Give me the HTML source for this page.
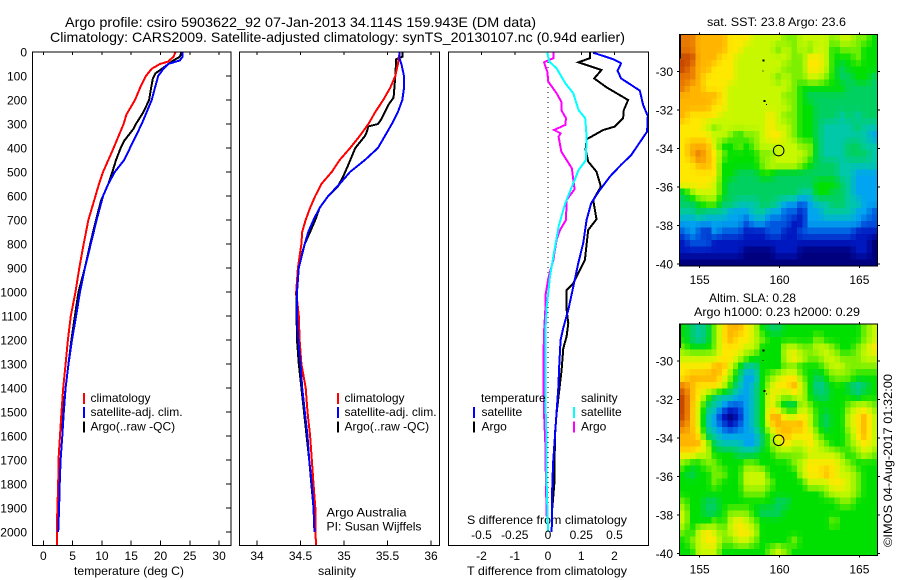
<!DOCTYPE html>
<html>
<head>
<meta charset="utf-8">
<title>Argo profile chart</title>
<style>
html,body{margin:0;padding:0;background:#fff;}
#chart{display:block;width:900px;height:580px;font-family:"Liberation Sans",sans-serif;font-size:12px;fill:#000;}
</style>
</head>
<body>
<svg id="chart" xmlns="http://www.w3.org/2000/svg" width="900" height="580" viewBox="0 0 900 580">
<rect x="0" y="0" width="900" height="580" fill="#fff"/>
<text x="65" y="27" font-size="14" textLength="471" lengthAdjust="spacingAndGlyphs">Argo profile: csiro 5903622_92 07-Jan-2013 34.114S 159.943E (DM data)</text>
<text x="50" y="42" font-size="14" textLength="575" lengthAdjust="spacingAndGlyphs">Climatology: CARS2009. Satellite-adjusted climatology: synTS_20130107.nc (0.94d earlier)</text>
<text x="74" y="575" textLength="110" lengthAdjust="spacingAndGlyphs">temperature (deg C)</text>
<text x="318" y="575" textLength="38" lengthAdjust="spacingAndGlyphs">salinity</text>
<text x="467" y="575" textLength="160" lengthAdjust="spacingAndGlyphs">T difference from climatology</text>
<text x="467" y="524" textLength="160" lengthAdjust="spacingAndGlyphs">S difference from climatology</text>
<text x="326.5" y="516.7" textLength="80" lengthAdjust="spacingAndGlyphs">Argo Australia</text>
<text x="326.5" y="530.7" textLength="95" lengthAdjust="spacingAndGlyphs">PI: Susan Wijffels</text>
<text x="707" y="26" textLength="139" lengthAdjust="spacingAndGlyphs">sat. SST: 23.8 Argo: 23.6</text>
<text x="709" y="302" textLength="87" lengthAdjust="spacingAndGlyphs">Altim. SLA: 0.28</text>
<text x="694" y="316" textLength="166" lengthAdjust="spacingAndGlyphs">Argo h1000: 0.23 h2000: 0.29</text>
<text transform="translate(892,547) rotate(-90)" textLength="173" lengthAdjust="spacingAndGlyphs">©IMOS 04-Aug-2017 01:32:00</text>
<g id="layer-maps"></g>
<g id="layer-profiles"></g>
<g id="layer-legends"></g>
</svg>
<script>
/* ---------- axis tick labels ---------- */
const depthTicks = [0,100,200,300,400,500,600,700,800,900,1000,1100,1200,1300,1400,1500,1600,1700,1800,1900,2000];
const tempTicks = [0,5,10,15,20,25,30];
const salTicks = [34,34.5,35,35.5,36];
const salTickLabels = ["34","34.5","35","35.5","36"];
const tDiffTicks = [-2,-1,0,1,2];
const sDiffTicks = [-0.5,-0.25,0,0.25,0.5];
const sDiffTickLabels = ["-0.5","-0.25","0","0.25","0.5"];
const lonTicks = [155,160,165];
const latTicks = [-30,-32,-34,-36,-38,-40];

/* ---------- temperature profiles (deg C vs dbar) ---------- */
const tempClimDepth = [0,20,40,50,70,100,150,200,260,300,400,500,550,600,700,800,900,1000,1100,1200,1300,1400,1500,1600,1700,1800,1900,2000,2057];
const tempClimValue = [22.6,22.2,21.3,19.9,18.5,17.5,16.5,15.65,14.2,13.7,12.0,10.2,9.5,8.9,7.7,6.9,6.15,5.5,4.7,4.2,3.8,3.4,3.1,2.85,2.6,2.55,2.4,2.3,2.3];
const tempSatDepth = [0,20,35,50,70,100,150,200,300,400,450,500,550,600,700,800,900,1000,1100,1200,1300,1400,1500,1600,1700,1800,1900,2000];
const tempSatValue = [23.8,23.75,23.3,21.3,20.5,19.6,19.05,18.5,16.8,14.8,13.8,12.2,11.1,10.2,9.1,8.1,7.1,6.26,5.6,4.9,4.3,3.8,3.5,3.25,2.96,2.8,2.7,2.55];
const tempArgoDepth = [0,20,35,60,90,110,150,200,250,300,320,370,400,450,500,550,620,700,800,900,1000,1100,1200,1300,1400,1500,1600,1700,1900,2000];
const tempArgoValue = [23.6,23.3,22.2,20.8,19.1,18.7,18.4,18.05,17.1,15.8,15.4,13.8,13.2,12.4,11.8,11.1,9.85,9.0,8.0,7.1,6.0,5.4,4.8,4.3,3.8,3.4,3.25,2.96,2.45,2.5];

/* ---------- salinity profiles (psu vs dbar) ---------- */
const salClimDepth = [0,50,100,150,200,250,300,350,400,450,500,550,600,650,700,750,800,900,1000,1100,1200,1300,1400,1500,1600,1700,1800,1900,2000,2057];
const salClimValue = [35.64,35.62,35.59,35.53,35.45,35.36,35.28,35.18,35.07,34.95,34.86,34.74,34.67,34.61,34.56,34.52,34.51,34.47,34.45,34.48,34.49,34.51,34.56,34.58,34.61,34.63,34.65,34.67,34.67,34.68];
const salSatDepth = [0,30,50,100,150,200,250,300,350,400,450,500,550,600,650,700,750,800,900,1000,1100,1200,1300,1400,1500,1600,1700,1800,1900,2000];
const salSatValue = [35.64,35.64,35.66,35.69,35.69,35.67,35.62,35.55,35.47,35.39,35.24,35.07,34.95,34.82,34.72,34.65,34.59,34.55,34.48,34.46,34.46,34.475,34.5,34.52,34.55,34.58,34.6,34.63,34.65,34.66];
const salArgoDepth = [0,20,30,100,190,220,280,300,310,335,350,400,470,520,560,600,650,700,750,800,900,1000,1200,1300,1500,1700,1900];
const salArgoValue = [35.67,35.67,35.6,35.59,35.57,35.51,35.43,35.39,35.28,35.26,35.24,35.13,35.05,34.99,34.93,34.82,34.72,34.67,34.61,34.55,34.47,34.45,34.46,34.48,34.54,34.6,34.65];

/* ---------- differences from climatology ---------- */
const tDiffSatDepth = [3,30,47,78,110,161,220,267,332,430,470,520,575,630,700,797,880,978,1075,1100,1150,1200,1300,1400,1500,1600,1700,1800,2000];
const tDiffSatValue = [1.36,1.96,2.2,2.09,2.2,2.76,2.86,3.0,2.98,2.5,2.2,1.86,1.56,1.3,1.16,1.06,0.91,0.76,0.61,0.56,0.46,0.38,0.34,0.31,0.26,0.21,0.16,0.13,0.11];
const tDiffArgoDepth = [3,26,43,54,75,110,147,200,242,276,311,325,364,408,457,499,561,617,697,742,867,964,992,1075,1130,1186,1235,1325,1408,1506,1590,1800,1900];
const tDiffArgoValue = [1.26,1.26,0.91,1.16,1.61,1.39,1.76,2.41,2.28,2.26,2.01,1.66,1.16,1.13,1.21,1.46,1.59,1.36,1.46,1.21,1.11,0.76,0.56,0.56,0.61,0.56,0.46,0.41,0.34,0.26,0.21,0.19,0.13];
const sDiffSatDepth = [3,40,68,130,172,242,276,353,450,492,547,630,728,853,936,1061,1172,1310,1450,1630,1800,2000];
const sDiffSatValue = [-0.005,0.01,0.065,0.13,0.19,0.23,0.28,0.29,0.285,0.23,0.19,0.13,0.08,0.04,0.015,-0.01,-0.02,-0.02,-0.02,-0.01,-0.01,0];
const sDiffArgoDepth = [3,26,43,82,124,172,207,242,276,304,325,339,353,415,485,533,572,617,700,742,783,867,943,1019,1075,1172,1310,1506,1630,1811,1936];
const sDiffArgoValue = [0.04,0.04,-0.03,-0.005,0.002,0.065,0.1,0.1,0.135,0.13,0.045,0.095,0.08,0.1,0.18,0.19,0.2,0.14,0.135,0.09,0.065,0.04,0.002,-0.02,-0.02,-0.03,-0.035,-0.03,-0.02,-0.015,-0.01];

/* ---------- map fields (colour-level, north row first) ---------- */
const sstLevels = [
[11,11,10,10,10,10,9,9,9,8,8,8,8,7,7,8,8,8,8,7,8,8,7,7,6],
[11,11,10,10,10,10,9,9,8,8,8,8,7,8,7,8,7,8,8,6,7,7,7,6,6],
[12,12,10,10,10,9,9,8,8,8,8,8,8,8,7,7,9,9,8,6,6,6,7,6,6],
[12,11,10,10,9,9,9,8,8,8,8,8,8,7,7,7,9,9,8,6,5,6,6,6,6],
[11,11,10,9,9,9,9,8,8,8,8,8,7,8,7,7,8,8,7,6,5,5,6,6,5],
[11,10,10,9,9,9,8,8,8,8,8,8,8,8,7,6,6,6,6,6,6,5,5,5,5],
[10,10,10,10,10,9,8,8,8,8,8,8,8,7,7,6,5,5,5,5,5,5,5,5,5],
[10,10,10,10,9,9,8,8,8,8,8,8,8,8,7,6,6,5,5,5,5,5,5,5,5],
[10,9,9,9,9,8,8,8,8,8,8,9,8,7,7,6,6,5,5,5,4,5,4,5,5],
[9,9,9,8,7,8,8,8,8,8,8,9,8,8,7,6,6,5,4,4,4,4,5,4,4],
[9,9,9,9,8,8,7,6,7,7,8,9,9,8,7,6,6,5,4,4,4,4,4,4,3],
[9,10,10,10,8,6,6,7,6,7,8,8,8,8,8,7,7,5,4,4,4,5,5,4,4],
[9,10,11,10,9,7,6,6,6,6,7,7,8,8,8,8,7,5,4,4,4,5,5,5,4],
[9,9,10,10,9,6,6,6,6,6,7,8,8,8,8,7,6,5,5,5,4,4,4,4,4],
[9,9,9,9,9,6,6,5,5,5,6,6,5,5,5,5,5,5,5,5,4,4,3,3,3],
[9,9,9,9,8,6,5,5,5,5,5,5,5,5,5,5,5,6,6,6,5,4,3,3,3],
[5,7,8,8,8,6,5,5,5,5,5,5,5,5,5,4,4,6,6,5,5,4,3,3,3],
[5,5,6,7,7,5,5,4,4,4,5,5,4,3,3,2,3,4,4,5,5,4,4,3,3],
[4,4,5,4,4,4,3,3,3,4,4,3,3,2,2,1,3,3,4,4,4,4,3,3,2],
[3,3,3,3,3,3,3,3,2,3,3,2,2,2,1,1,3,3,3,3,3,3,3,2,2],
[2,3,2,1,3,2,2,2,1,1,1,2,2,1,1,2,2,2,2,2,2,2,1,1,1],
[1,2,2,2,1,1,1,1,1,1,1,1,1,1,1,1,1,1,1,1,1,1,1,1,0],
[1,1,1,1,1,1,1,1,0,0,0,0,1,1,1,0,0,0,0,0,0,0,1,1,0],
[0,0,0,0,0,0,0,0,0,0,0,0,0,0,0,0,0,0,0,0,0,0,0,0,0]
];
const slaLevels = [
[6,5,4,5,7,9,10,10,9,8,6,5,5,6,6,6,6,6,6,6,6,6,6,7,8],
[6,5,4,5,7,9,10,9,9,8,7,6,6,6,6,6,6,7,6,6,6,6,6,7,8],
[7,6,6,6,7,9,9,9,8,8,6,6,6,8,8,7,7,8,8,7,6,6,7,8,9],
[8,8,8,8,8,9,9,8,7,6,6,6,6,8,9,8,7,7,8,8,7,7,7,8,8],
[9,9,9,9,10,10,8,6,4,4,6,6,6,7,7,6,6,6,7,8,8,7,7,7,7],
[9,10,10,10,10,9,7,5,3,3,6,7,8,9,9,7,6,5,6,7,7,7,6,6,6],
[11,10,9,9,9,8,6,4,3,4,6,8,9,9,10,8,6,4,5,6,6,5,4,5,6],
[12,10,9,7,5,4,4,3,3,4,6,9,8,7,8,8,6,5,5,6,6,6,5,6,6],
[12,10,8,5,4,3,2,2,3,4,6,9,7,5,5,8,7,6,6,6,6,7,8,8,7],
[12,10,8,4,3,1,0,1,3,4,6,10,10,8,8,9,8,6,5,6,6,8,9,10,8],
[11,10,8,4,3,2,1,2,3,4,6,9,10,10,10,10,8,6,5,6,6,8,9,10,8],
[10,10,9,5,4,3,3,3,3,3,5,7,9,10,9,9,9,7,6,6,6,7,9,10,8],
[10,10,10,8,5,4,4,4,3,3,5,7,8,9,8,8,9,8,7,6,6,7,8,9,8],
[9,9,8,8,6,6,6,5,5,5,6,6,7,7,7,7,8,8,8,8,7,6,7,8,7],
[7,6,6,7,7,6,6,6,7,7,6,6,6,6,7,8,9,9,9,9,8,7,6,6,6],
[6,5,6,6,7,7,6,6,8,8,8,6,6,6,6,8,9,9,10,9,8,8,7,6,6],
[6,6,6,6,7,6,6,6,8,8,8,7,6,6,6,6,8,8,8,9,9,8,7,6,6],
[6,6,6,6,6,6,6,6,7,7,7,6,6,6,6,6,6,6,7,8,8,8,7,6,6],
[7,6,6,5,5,6,6,6,6,6,6,6,5,5,6,6,6,6,6,6,7,7,6,6,6],
[8,6,6,5,5,6,7,7,7,6,5,5,5,6,6,6,6,6,6,6,6,6,6,6,6],
[8,6,6,6,7,6,8,9,8,7,6,6,6,6,6,6,6,6,6,7,6,6,6,6,6],
[7,6,8,9,8,7,8,9,9,8,6,6,6,6,6,6,6,6,6,6,6,6,6,6,6],
[6,7,8,9,9,7,7,8,8,7,6,6,6,6,7,6,6,6,6,6,6,6,6,6,6],
[6,6,8,8,8,6,6,6,6,6,6,7,8,7,6,6,6,6,6,6,6,6,6,6,6]
];
const islandLons = [159.0,159.0,159.05,159.2];
const islandLats = [-29.45,-30.0,-31.55,-31.75];
const argoLon = 159.943;
const argoLat = -34.114;

/* ---------- geometry / scales ---------- */
const NS = 'http://www.w3.org/2000/svg';
const levelColors = [[0,0,127],[0,24,192],[0,88,224],[0,164,240],[0,200,168],[0,208,96],[0,224,0],[124,240,0],[200,248,0],[255,232,0],[255,180,0],[232,120,0],[200,72,0]];
const topY = 52, bottomY = 545.7;
const panelT = {l:32.5,r:231}, panelS = {l:239.5,r:439.5}, panelD = {l:448.5,r:648.5};
const yDepth = d => topY + d * 0.2399;
const xTemp = t => 43.3 + t * 5.86;
const xSal = s => 257 + (s - 34) * 87;
const xTDiff = t => 548 + t * 33.25;
const xSDiff = s => 548 + s * 133;
const xLon = lon => 699.7 + (lon - 155) * 15.97;
const map1Y = lat => 71.3 + (-30 - lat) * 19.27;
const map2Y = lat => 361 + (-30 - lat) * 19.27;
const lonMin = 153.72, lonMax = 166.12, latMax = -28.08, latMin = -40.1;
const displayCols = 37, displayRows = 36;

const profiles = document.getElementById('layer-profiles');
const maps = document.getElementById('layer-maps');
const legends = document.getElementById('layer-legends');

function mk(tag, parent, attrs) {
  const el = document.createElementNS(NS, tag);
  for (const k in attrs) el.setAttribute(k, attrs[k]);
  parent.appendChild(el);
  return el;
}
function label(parent, str, x, y, anchor) {
  const t = mk('text', parent, {x: x, y: y, 'text-anchor': anchor || 'middle'});
  t.textContent = str;
  return t;
}
function segment(parent, x1, y1, x2, y2) {
  return mk('line', parent, {x1: x1, y1: y1, x2: x2, y2: y2, stroke: '#000', 'stroke-width': 1, 'shape-rendering': 'crispEdges'});
}
function frame(parent, p, sw) {
  return mk('rect', parent, {x: p.l, y: topY, width: p.r - p.l, height: bottomY - topY, fill: 'none', stroke: '#000', 'stroke-width': sw || 1, 'shape-rendering': 'crispEdges'});
}
function profileLine(parent, depths, values, xf, color, width) {
  const pts = depths.map((d, i) => xf(values[i]).toFixed(1) + ',' + yDepth(d).toFixed(1)).join(' ');
  return mk('polyline', parent, {points: pts, fill: 'none', stroke: color, 'stroke-width': width || 2, 'stroke-linejoin': 'miter', 'shape-rendering': 'crispEdges'});
}

/* ---------- temperature panel ---------- */
const gT = mk('g', profiles, {});


const lineTA = profileLine(gT, tempArgoDepth, tempArgoValue, xTemp, '#000');


const lineTC = profileLine(gT, tempClimDepth, tempClimValue, xTemp, '#ff0000');


const lineTS = profileLine(gT, tempSatDepth, tempSatValue, xTemp, '#0000ff');


const frameT = frame(gT, panelT);


const depthAxis = mk('g', gT, {});


depthTicks.forEach(d => {
  const y = yDepth(d);
  const lab = label(depthAxis, String(d), 27, y + 4.5, 'end');
  
  
  if (d > 0) segment(depthAxis, panelT.r - 5, y, panelT.r, y);
});
const tempAxis = mk('g', gT, {});


tempTicks.forEach(t => {
  const x = xTemp(t);
  segment(tempAxis, x, topY, x, topY + 3);
  segment(tempAxis, x, bottomY - 5, x, bottomY);
  const lab = label(tempAxis, String(t), x, 560);
  
  
});

/* ---------- salinity panel ---------- */
const gS = mk('g', profiles, {});


const lineSA = profileLine(gS, salArgoDepth, salArgoValue, xSal, '#000');


const lineSC = profileLine(gS, salClimDepth, salClimValue, xSal, '#ff0000');


const lineSS = profileLine(gS, salSatDepth, salSatValue, xSal, '#0000ff');


const frameS = frame(gS, panelS);


const salAxis = mk('g', gS, {});


salTicks.forEach((s, i) => {
  const x = xSal(s);
  segment(salAxis, x, topY, x, topY + 3);
  segment(salAxis, x, bottomY - 5, x, bottomY);
  const lab = label(salAxis, salTickLabels[i], x, 560);
  
  
});

/* ---------- difference panel ---------- */
const gD = mk('g', profiles, {});


const zeroLine = mk('line', gD, {x1: xTDiff(0), y1: topY, x2: xTDiff(0), y2: yDepth(2000), stroke: '#000', 'stroke-width': 1, 'stroke-dasharray': '1 4', 'shape-rendering': 'crispEdges'});


const lineDTA = profileLine(gD, tDiffArgoDepth, tDiffArgoValue, xTDiff, '#000');


const lineDTS = profileLine(gD, tDiffSatDepth, tDiffSatValue, xTDiff, '#0000ff');


const lineDSA = profileLine(gD, sDiffArgoDepth, sDiffArgoValue, xSDiff, '#ff00ff');


const lineDSS = profileLine(gD, sDiffSatDepth, sDiffSatValue, xSDiff, '#00ffff');


const frameD = frame(gD, panelD);


const tDiffAxis = mk('g', gD, {});


tDiffTicks.forEach(t => {
  const x = xTDiff(t);
  if (t !== 0) segment(tDiffAxis, x, topY, x, topY + 3);
  const lab = label(tDiffAxis, String(t), x, 560);
  
  
});
const sDiffAxis = mk('g', gD, {});


sDiffTicks.forEach((s, i) => {
  const lab = label(sDiffAxis, sDiffTickLabels[i], xSDiff(s), 539);
  
  
});

/* ---------- legends ---------- */
function legendEntry(bx, tx, y0, color, str) {
  const g = mk('g', legends, {});
  
  
  if (color) mk('rect', g, {x: bx, y: y0, width: 2, height: 11, fill: color, 'shape-rendering': 'crispEdges'});
  label(g, str, tx, y0 + 9, 'start');
}
legendEntry(83, 90.5, 393, '#ff0000', 'climatology');
legendEntry(83, 90.5, 407, '#0000ff', 'satellite-adj. clim.');
legendEntry(83, 90.5, 421.5, '#000', 'Argo(..raw -QC)');
legendEntry(337, 344.5, 393, '#ff0000', 'climatology');
legendEntry(337, 344.5, 407, '#0000ff', 'satellite-adj. clim.');
legendEntry(337, 344.5, 421.5, '#000', 'Argo(..raw -QC)');
legendEntry(0, 481, 393, null, 'temperature');
legendEntry(473, 481.5, 407, '#0000ff', 'satellite');
legendEntry(473, 481.5, 421.5, '#000', 'Argo');
legendEntry(0, 581, 393, null, 'salinity');
legendEntry(573, 581, 407, '#00ffff', 'satellite');
legendEntry(573, 581, 421.5, '#ff00ff', 'Argo');

/* ---------- maps: the level grid is resampled onto the display pixels ---------- */
function sampleLevel(levels, fr, fc) {
  const rows = levels.length, cols = levels[0].length;
  const r = Math.max(0, Math.min(rows - 1, fr * rows - 0.5));
  const c = Math.max(0, Math.min(cols - 1, fc * cols - 0.5));
  const r0 = Math.floor(r), c0 = Math.floor(c);
  const r1 = Math.min(rows - 1, r0 + 1), c1 = Math.min(cols - 1, c0 + 1);
  const dr = r - r0, dc = c - c0;
  return (levels[r0][c0] * (1 - dc) + levels[r0][c1] * dc) * (1 - dr) +
         (levels[r1][c0] * (1 - dc) + levels[r1][c1] * dc) * dr;
}
function levelColor(v) {
  const i = Math.min(levelColors.length - 2, Math.floor(v)), f = v - i;
  const a = levelColors[i], b = levelColors[i + 1];
  return 'rgb(' + a.map((x, k) => Math.round(x + (b[k] - x) * f)).join(',') + ')';
}
function drawMap(levels, yf, name) {
  const g = mk('g', maps, {});
  
  
  const dLon = (lonMax - lonMin) / displayCols, dLat = (latMax - latMin) / displayRows;
  for (let r = 0; r < displayRows; r++) {
    for (let c = 0; c < displayCols; c++) {
      const v = sampleLevel(levels, (r + 0.5) / displayRows, (c + 0.5) / displayCols);
      const x0 = xLon(lonMin + c * dLon), x1 = xLon(lonMin + (c + 1) * dLon);
      const y0 = yf(latMax - r * dLat), y1 = yf(latMax - (r + 1) * dLat);
      const cell = mk('rect', g, {x: x0.toFixed(2), y: y0.toFixed(2), width: (x1 - x0 + 0.4).toFixed(2), height: (y1 - y0 + 0.4).toFixed(2), fill: levelColor(v), 'shape-rendering': 'crispEdges'});
      
      
    }
  }
  const strip = mk('rect', g, {x: xLon(lonMin), y: yf(latMax), width: 1.5, height: 24, fill: '#000', 'shape-rendering': 'crispEdges'});
  
  
  islandLons.forEach((lon, i) => {
    const dot = mk('rect', g, {x: xLon(lon) - 1, y: yf(islandLats[i]) - 1, width: i === 1 || i === 3 ? 1 : 2, height: i === 1 || i === 3 ? 1 : 2, fill: '#000', 'shape-rendering': 'crispEdges'});
    
    
  });
  const box = mk('rect', g, {x: xLon(lonMin), y: yf(latMax), width: xLon(lonMax) - xLon(lonMin), height: yf(latMin) - yf(latMax), fill: 'none', stroke: '#000', 'stroke-width': 1, 'shape-rendering': 'crispEdges'});
  
  
  const marker = mk('circle', g, {cx: xLon(argoLon), cy: yf(argoLat), r: 5.3, fill: 'none', stroke: '#000', 'stroke-width': 1});
  
  
  lonTicks.forEach(lon => {
    const x = xLon(lon);
    segment(g, x, yf(latMax) - 2, x, yf(latMax));
    segment(g, x, yf(latMin), x, yf(latMin) + 2);
    const lab = label(g, String(lon), x, yf(latMin) + 18);
    
    
  });
  latTicks.forEach(lat => {
    const y = yf(lat);
    segment(g, xLon(lonMin) - 2.5, y, xLon(lonMin), y);
    segment(g, xLon(lonMax), y, xLon(lonMax) + 2.5, y);
    const lab = label(g, String(lat), 673, y + 4.5, 'end');
    
    
  });
}
drawMap(sstLevels, map1Y, 'sst-map');
drawMap(slaLevels, map2Y, 'sla-map');
</script>
</body>
</html>
